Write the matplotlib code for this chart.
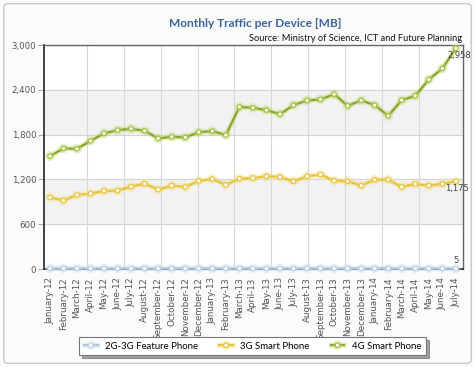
import numpy as np
import matplotlib.pyplot as plt
import matplotlib.patheffects as pe
from matplotlib.patches import FancyBboxPatch

months = ['January', 'February', 'March', 'April', 'May', 'June', 'July', 'August',
          'September', 'October', 'November', 'December']
labels = [f'{m}-{y}' for y in ('12', '13') for m in months] + \
         [f'{m}-14' for m in months[:7]]

feature_2g3g = [8, 8, 8, 8, 8, 8, 8, 8, 8, 8, 8, 8, 8, 8, 8, 8,
                8, 8, 8, 8, 8, 8, 8, 8, 8, 8, 8, 8, 8, 8, 5]
smart_3g = [960, 918, 993, 1010, 1046, 1050, 1104, 1144, 1064, 1117, 1100, 1180,
            1207, 1127, 1211, 1220, 1242, 1234, 1175, 1242, 1265, 1184, 1175, 1117,
            1198, 1198, 1100, 1140, 1117, 1140, 1175]
smart_4g = [1513, 1616, 1611, 1718, 1817, 1861, 1879, 1852, 1750, 1771, 1763, 1834,
            1848, 1794, 2173, 2160, 2129, 2075, 2196, 2259, 2272, 2343, 2187, 2259,
            2196, 2053, 2263, 2321, 2540, 2687, 2958]
yticks = [0, 600, 1200, 1800, 2400, 3000]

fig = plt.figure(figsize=(4.75, 3.67), dpi=100)
fig.patch.set_facecolor('#fbfbfb')
border = FancyBboxPatch((0.008, 0.01), 0.984, 0.98, boxstyle='round,pad=0,rounding_size=0.01',
                        transform=fig.transFigure, fc='none', ec='#c8c8c8', lw=1, zorder=-5)
fig.patches.append(border)

ax = fig.add_axes([0.0926, 0.267, 0.882, 0.61])
x = np.arange(len(labels))
ax.set_xlim(-0.44, 30.52)
ax.set_ylim(0, 3000)
ax.set_facecolor('white')

# alternating bands
for i in range(len(yticks) - 1):
    if i % 2 == 1:
        ax.axhspan(yticks[i], yticks[i + 1], color='#f2f2f2', zorder=0)
for v in yticks[1:]:
    ax.axhline(v, color='#d4d4d4', lw=0.8, zorder=1)
for gx in np.linspace(0, 30, 12)[1:-1]:
    ax.axvline(gx, color='#d8d8d8', lw=0.8, zorder=1)

glow = lambda c: [pe.Stroke(linewidth=3.8, foreground=c, alpha=0.4), pe.Normal()]
ax.plot(x, feature_2g3g, color='#a9c4de', lw=1.6, marker='o', ms=3.2, mfc='white',
        mec='#b8d0e6', mew=0.8, zorder=3, label='2G-3G Feature Phone',
        path_effects=glow('#c9dcee'), clip_on=False)
ax.plot(x, smart_3g, color='#e5c23a', lw=1.6, marker='o', ms=3.2, mfc='white',
        mec='#e5c23a', mew=0.8, zorder=3, label='3G Smart Phone',
        path_effects=glow('#f3dc7a'))
ax.plot(x, smart_4g, color='#85a62a', lw=1.6, marker='o', ms=3.2, mfc='white',
        mec='#9cbc3a', mew=0.8, zorder=3, label='4G Smart Phone',
        path_effects=glow('#c2d870'))

ax.text(x[-1] + 0.25, smart_4g[-1] - 100, f'{smart_4g[-1]:,}', fontsize=6, color='#444444',
        ha='center', va='center', zorder=4)
ax.text(x[-1] + 0.1, smart_3g[-1] - 100, f'{smart_3g[-1]:,}', fontsize=6, color='#444444',
        ha='center', va='center', zorder=4)
ax.text(x[-1], 110, f'{feature_2g3g[-1]}', fontsize=6, color='#444444',
        ha='center', va='center', zorder=4)

ax.set_yticks(yticks)
ax.set_yticklabels([f'{v:,}' for v in yticks], fontsize=6.2, color='#555555')
ax.set_xticks(x)
ax.set_xticklabels(labels, rotation=90, fontsize=6.3, color='#555555')
ax.tick_params(axis='x', length=0, pad=6)
ax.tick_params(axis='y', length=4, width=0.8, color='#aaaaaa', pad=1.5)
for side in ('left', 'bottom'):
    ax.spines[side].set_color('#333333')
    ax.spines[side].set_linewidth(1.3)
for side in ('top', 'right'):
    ax.spines[side].set_color('#666666')
    ax.spines[side].set_linewidth(1.0)

fig.text(0.537, 0.935, 'Monthly Traffic per Device [MB]', ha='center', va='center',
         fontsize=8.6, fontweight='bold', color='#3b64a0', family='Lato')
fig.text(0.972, 0.894, 'Source: Ministry of Science, ICT and Future Planning', ha='right',
         va='center', fontsize=6.7, color='#111111', family='Lato')

leg = fig.legend(loc='center', bbox_to_anchor=(0.532, 0.057), ncol=3,
                 prop={'family': 'Lato', 'size': 6.9}, frameon=True, fancybox=False,
                 shadow=True, columnspacing=2.2, handlelength=1.4, handletextpad=0.8,
                 borderpad=0.5)
leg.get_frame().set_edgecolor('#777777')
leg.get_frame().set_linewidth(0.8)

fig.savefig('out.png', dpi=100)
